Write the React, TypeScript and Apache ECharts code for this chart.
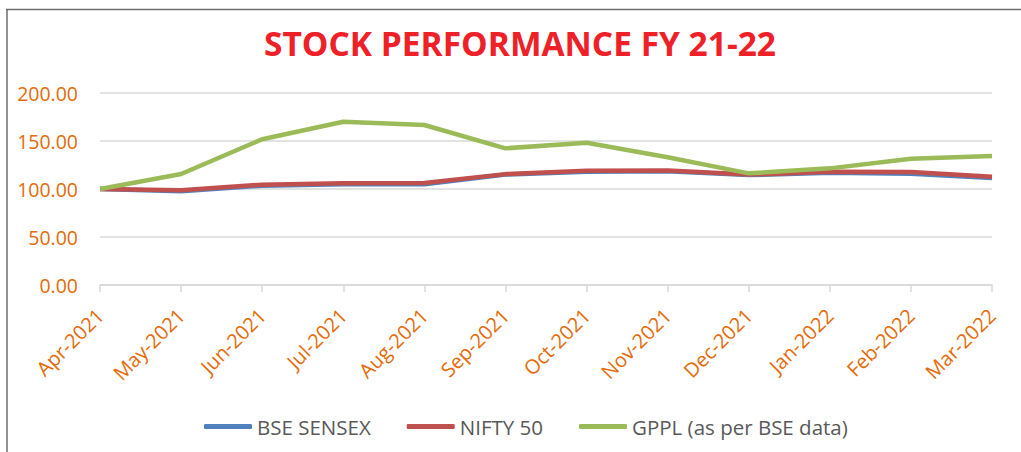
import React, { useEffect, useRef } from "react";
import * as echarts from "echarts";

const months = ["Apr-2021", "May-2021", "Jun-2021", "Jul-2021", "Aug-2021", "Sep-2021", "Oct-2021", "Nov-2021", "Dec-2021", "Jan-2022", "Feb-2022", "Mar-2022"];
const bseSensex = [100, 97.6, 103.5, 105, 105, 115, 118, 118.6, 114.5, 117, 116, 111.5];
const nifty50 = [100, 98.8, 104.5, 106, 106.2, 115.5, 119, 119.2, 115, 118, 117.6, 112.8];
const gppl = [100, 115.6, 151.8, 170, 166.7, 142.4, 148.2, 133, 116.3, 121.5, 131.6, 134.4];
const yTicks = [0, 50, 100, 150, 200];

export default function App() {
  const ref = useRef<HTMLDivElement>(null);
  useEffect(() => {
    document.body.style.margin = "0";
    const chart = echarts.init(ref.current!, undefined, { renderer: "svg" });
    const font = "'Open Sans', sans-serif";
    chart.setOption({
      animation: false,
      backgroundColor: "#ffffff",
      title: {
        text: "STOCK PERFORMANCE FY 21-22",
        left: 259,
        top: 21,
        textStyle: { color: "#EE2128", fontSize: 33.5, fontWeight: "bold", fontFamily: font },
      },
      graphic: [
        { type: "line", shape: { x1: 6, y1: 9.5, x2: 1021, y2: 9.5 }, style: { stroke: "#6e6e6e", lineWidth: 1.5 } },
        { type: "line", shape: { x1: 7, y1: 9, x2: 7, y2: 452 }, style: { stroke: "#6e6e6e", lineWidth: 1.5 } },
      ],
      legend: {
        bottom: 10,
        left: 199,
        itemWidth: 48,
        itemHeight: 5,
        itemGap: 36,
        icon: "roundRect",
        textStyle: { color: "#595959", fontSize: 20.5, fontFamily: font },
        data: ["BSE SENSEX", "NIFTY 50", "GPPL (as per BSE data)"],
      },
      grid: { left: 100, right: 29, top: 93, bottom: 167, containLabel: false },
      xAxis: {
        type: "category",
        boundaryGap: false,
        data: months,
        axisLine: { lineStyle: { color: "#D9D9D9", width: 1.5 } },
        axisTick: { show: true, length: 7, lineStyle: { color: "#D9D9D9", width: 1.5 } },
        axisLabel: { rotate: 45, color: "#E36C0A", fontSize: 20, fontFamily: font, margin: 27 },
      },
      yAxis: {
        type: "value",
        min: yTicks[0],
        max: yTicks[yTicks.length - 1],
        interval: 50,
        axisLine: { show: false },
        axisTick: { show: false },
        splitLine: { lineStyle: { color: "#D9D9D9", width: 1.5 } },
        axisLabel: { color: "#E36C0A", fontSize: 19.5, fontFamily: font, margin: 22, formatter: (v: number) => v.toFixed(2) },
      },
      series: [
        { name: "BSE SENSEX", type: "line", data: bseSensex, symbol: "none", lineStyle: { width: 4.5, color: "#4F81BD" }, itemStyle: { color: "#4F81BD" } },
        { name: "NIFTY 50", type: "line", data: nifty50, symbol: "none", lineStyle: { width: 4.5, color: "#C0504D" }, itemStyle: { color: "#C0504D" } },
        { name: "GPPL (as per BSE data)", type: "line", data: gppl, symbol: "none", lineStyle: { width: 4.5, color: "#9BBB59" }, itemStyle: { color: "#9BBB59" } },
      ],
    });
    return () => chart.dispose();
  }, []);
  return <div ref={ref} style={{ width: 1021, height: 452 }} />;
}
